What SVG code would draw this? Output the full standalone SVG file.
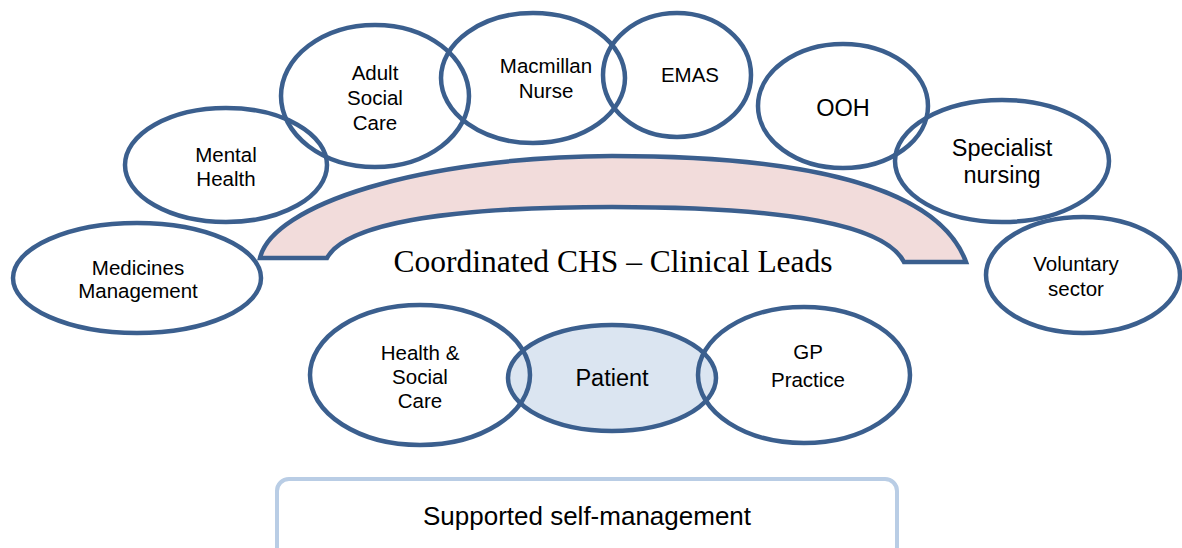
<svg xmlns="http://www.w3.org/2000/svg" width="1182" height="548" viewBox="0 0 1182 548">
  <style>
    .node { fill: none; stroke: #3b5f8e; stroke-width: 4.5; }
    .lbl { font-family: "Liberation Sans", Arial, sans-serif; font-size: 20.5px; fill: #000; text-anchor: middle; }
    .big { font-size: 23.5px; }
    .arch { fill: #f2dcdb; stroke: #3b5f8e; stroke-width: 4.5; stroke-linejoin: miter; }
    .serif { font-family: "Liberation Serif", "Times New Roman", serif; font-size: 31.5px; fill: #000; text-anchor: middle; }
  </style>
  <rect width="1182" height="548" fill="#ffffff"/>

  <!-- central arch -->
  <g id="clinical-leads">
    <path class="arch" d="M260,258 C272,205 420,157 612,156 C800,156 938,185 966,262 L904,262 C885,225 790,207 612,207 C440,207 345,225 327,258 Z"/>
    <text class="serif" x="613" y="272">Coordinated CHS – Clinical Leads</text>
  </g>

  <!-- patient sits underneath the two outlined neighbours -->
  <g id="patient">
    <ellipse class="node" cx="612" cy="378" rx="104" ry="53" style="fill:#dbe5f1"/>
    <text class="lbl big" x="612" y="386">Patient</text>
  </g>

  <g id="medicines-management">
    <ellipse class="node" cx="137" cy="278" rx="124" ry="55"/>
    <text class="lbl" x="138" y="275">Medicines</text>
    <text class="lbl" x="138" y="298">Management</text>
  </g>

  <g id="mental-health">
    <ellipse class="node" cx="226" cy="165" rx="101" ry="57"/>
    <text class="lbl" x="226" y="162">Mental</text>
    <text class="lbl" x="226" y="186">Health</text>
  </g>

  <g id="adult-social-care">
    <ellipse class="node" cx="375" cy="96" rx="94" ry="71"/>
    <text class="lbl" x="375" y="80">Adult</text>
    <text class="lbl" x="375" y="105">Social</text>
    <text class="lbl" x="375" y="130">Care</text>
  </g>

  <g id="macmillan-nurse">
    <ellipse class="node" cx="533" cy="78" rx="92" ry="65"/>
    <text class="lbl" x="546" y="73">Macmillan</text>
    <text class="lbl" x="546" y="98">Nurse</text>
  </g>

  <g id="emas">
    <ellipse class="node" cx="677" cy="75" rx="74" ry="62"/>
    <text class="lbl" x="690" y="82">EMAS</text>
  </g>

  <g id="ooh">
    <ellipse class="node" cx="843" cy="106" rx="85" ry="62"/>
    <text class="lbl big" x="843" y="116">OOH</text>
  </g>

  <g id="specialist-nursing">
    <ellipse class="node" cx="1002" cy="161" rx="107" ry="61"/>
    <text class="lbl big" x="1002" y="156">Specialist</text>
    <text class="lbl big" x="1002" y="183">nursing</text>
  </g>

  <g id="voluntary-sector">
    <ellipse class="node" cx="1083" cy="275" rx="97" ry="58"/>
    <text class="lbl" x="1076" y="271">Voluntary</text>
    <text class="lbl" x="1076" y="296">sector</text>
  </g>

  <g id="health-social-care">
    <ellipse class="node" cx="420" cy="375" rx="110" ry="70"/>
    <text class="lbl" x="420" y="360">Health &amp;</text>
    <text class="lbl" x="420" y="384">Social</text>
    <text class="lbl" x="420" y="408">Care</text>
  </g>

  <g id="gp-practice">
    <ellipse class="node" cx="804" cy="375" rx="106" ry="68"/>
    <text class="lbl" x="808" y="359">GP</text>
    <text class="lbl" x="808" y="387">Practice</text>
  </g>

  <g id="self-management">
    <rect x="277" y="479" width="620" height="95" rx="12" fill="#ffffff" stroke="#b9cde5" stroke-width="4"/>
    <text class="lbl" x="587" y="525" style="font-size:26px">Supported self-management</text>
  </g>

  <g id="connectors"/>
</svg>
